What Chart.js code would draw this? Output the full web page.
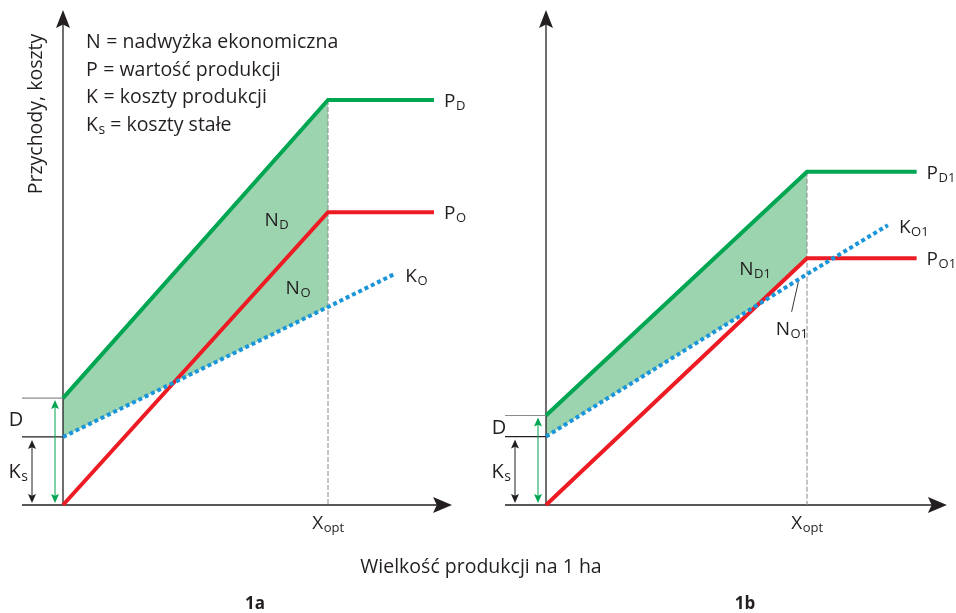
<!DOCTYPE html>
<html lang="pl">
<head>
<meta charset="utf-8">
<script src="https://cdn.jsdelivr.net/npm/chart.js@4.4.0/dist/chart.umd.min.js"></script>
<style>
  body { margin:0; background:#fff; width:956px; height:613px; overflow:hidden; position:relative; font-family: "Open Sans", sans-serif; color:#231f20; }
  canvas { position:absolute; top:0; }
  #c1 { left:0; }
  #c2 { left:478px; }
  .txt { position:absolute; font-size:19.5px; white-space:nowrap; transform:translateX(-50%); line-height:1; }
  .bold { font-weight:bold; }
</style>
</head>
<body>
<canvas id="c1" width="478" height="613"></canvas>
<canvas id="c2" width="478" height="613"></canvas>
<div class="txt" style="left:481px; top:556px;">Wielkość produkcji na 1 ha</div>
<div class="txt bold" style="left:255px; top:594px; font-size:17px;">1a</div>
<div class="txt bold" style="left:745px; top:594px; font-size:17px;">1b</div>
<script>
// ---- 1a ----
const pdA_x = [0, 10, 14];
const pdA_y = [26.4, 100, 100];
const poA_x = [0, 10, 14];
const poA_y = [0, 72.3, 72.3];
const koA_x = [0, 10, 12.5];
const koA_y = [16.8, 48.9, 57];
// surplus area N_D + N_O (between P_D and K_O up to X_opt)
const nA_top_x = [0, 10];
const nA_top_y = [26.4, 100];
const nA_bot_x = [0, 10];
const nA_bot_y = [16.8, 48.9];

// ---- 1b ----
const pdB_x = [0, 10, 14.2];
const pdB_y = [22.1, 82.3, 82.3];
const poB_x = [0, 10, 14.2];
const poB_y = [0, 60.9, 60.9];
const koB_x = [0, 10, 13.1];
const koB_y = [16.9, 57, 69.1];
// surplus area N_D1 (between P_D1 and the higher of K_O1 / P_O1)
const nB_top_x = [0, 10];
const nB_top_y = [22.1, 82.3];
const nB_bot_x = [0, 8.0, 10];
const nB_bot_y = [16.9, 49.0, 60.9];

const xOpt = 10;
const legendLines = [['N', '', ' = nadwyżka ekonomiczna'], ['P', '', ' = wartość produkcji'], ['K', '', ' = koszty produkcji'], ['K', 's', ' = koszty stałe']];

const green = '#00a651', red = '#ed1c24', blue = '#1b95d9', fillCol = '#9dd4b0', ink = '#231f20';
const FONT = '"Open Sans"';
const PY = 4.05; // px per y unit

const pts = (xs, ys) => xs.map((x, i) => ({x: x, y: ys[i]}));

function line(ctx, x1, y1, x2, y2) {
  ctx.beginPath(); ctx.moveTo(x1, y1); ctx.lineTo(x2, y2); ctx.stroke();
}
function head(ctx, tx, ty, dx, dy, len, half) {
  const nx = -dy, ny = dx;
  ctx.beginPath();
  ctx.moveTo(tx, ty);
  ctx.lineTo(tx - dx * len + nx * half, ty - dy * len + ny * half);
  ctx.lineTo(tx - dx * len * 0.8, ty - dy * len * 0.8);
  ctx.lineTo(tx - dx * len - nx * half, ty - dy * len - ny * half);
  ctx.closePath(); ctx.fill();
}
function subText(ctx, x, y, main, sub, align, size) {
  const f1 = size + 'px ' + FONT, f2 = Math.round(size * 0.7) + 'px ' + FONT;
  ctx.font = f1; const w1 = ctx.measureText(main).width;
  ctx.font = f2; const w2 = sub ? ctx.measureText(sub).width : 0;
  const left = align === 'center' ? x - (w1 + w2) / 2 : x;
  ctx.textAlign = 'left'; ctx.textBaseline = 'alphabetic';
  ctx.font = f1; ctx.fillText(main, left, y);
  if (sub) { ctx.font = f2; ctx.fillText(sub, left + w1 + 0.5, y + 3); }
  return left + w1 + w2 + 0.5;
}

function overlay(p) {
  return {
    id: 'overlay' + p.id,
    beforeDatasetsDraw(chart) {
      const {ctx, scales: {x, y}} = chart;
      const ax = x.getPixelForValue(0), by = y.getPixelForValue(0);
      ctx.save();
      ctx.strokeStyle = ink; ctx.fillStyle = ink; ctx.lineWidth = 1.3;
      // axes
      const ty = y.getPixelForValue(p.yTip), tx = x.getPixelForValue(p.xTip);
      line(ctx, ax, by, ax, ty + 14);
      head(ctx, ax, ty, 0, -1, 18, 7);
      line(ctx, ax - 41, by, tx - 14, by);
      head(ctx, tx, by, 1, 0, 19, 8);
      // Ks and D levels
      const yKs = y.getPixelForValue(p.ko_y[0]), yD = y.getPixelForValue(p.pd_y[0]);
      ctx.lineWidth = 1.2;
      line(ctx, ax - 41, yKs, ax, yKs);
      ctx.strokeStyle = '#8c8c8c';
      line(ctx, ax - 41, yD, ax, yD);
      // Ks arrow
      ctx.strokeStyle = ink; ctx.fillStyle = ink; ctx.lineWidth = 1;
      const xa = ax - 31;
      line(ctx, xa, yKs + 6, xa, by - 6);
      head(ctx, xa, yKs + 3, 0, -1, 9, 4);
      head(ctx, xa, by - 2, 0, 1, 9, 4);
      // D arrow
      ctx.strokeStyle = green; ctx.fillStyle = green;
      const xg = ax - 8;
      line(ctx, xg, yD + 6, xg, by - 6);
      head(ctx, xg, yD + 2, 0, -1, 9, 4);
      head(ctx, xg, by - 2, 0, 1, 9, 4);
      // X_opt guide
      ctx.strokeStyle = '#8a8a8a'; ctx.lineWidth = 1; ctx.setLineDash([5, 2]);
      const xo = x.getPixelForValue(xOpt);
      line(ctx, xo, y.getPixelForValue(p.pd_y[1]), xo, by);
      ctx.restore();
    },
    afterDatasetsDraw(chart) {
      const {ctx, scales: {x, y}} = chart;
      const ax = x.getPixelForValue(0), by = y.getPixelForValue(0);
      ctx.save();
      ctx.fillStyle = ink;
      const last = (xs, ys) => [x.getPixelForValue(xs[xs.length - 1]), y.getPixelForValue(ys[ys.length - 1])];
      let e = last(p.pd_x, p.pd_y); subText(ctx, e[0] + 10, e[1] + 7, 'P', p.names[0], 'left', 19);
      e = last(p.po_x, p.po_y); subText(ctx, e[0] + 10, e[1] + 7, 'P', p.names[1], 'left', 19);
      e = last(p.ko_x, p.ko_y); subText(ctx, e[0] + 11, e[1] + 8, 'K', p.names[2], 'left', 19);
      // X_opt
      subText(ctx, x.getPixelForValue(xOpt), by + 24, 'X', 'opt', 'center', 19);
      // D, Ks
      const yKs = y.getPixelForValue(p.ko_y[0]), yD = y.getPixelForValue(p.pd_y[0]);
      subText(ctx, ax - 47, (yD + yKs) / 2 + 8, 'D', '', 'center', 20);
      subText(ctx, ax - 45, (yKs + by) / 2 + 7, 'K', 's', 'center', 20);
      // area labels
      p.areas.forEach(a => subText(ctx, x.getPixelForValue(a.x), y.getPixelForValue(a.y) + 7, 'N', a.sub, 'left', 19));
      if (p.pointer) {
        ctx.strokeStyle = ink; ctx.lineWidth = 0.9;
        line(ctx, x.getPixelForValue(p.pointer[0]), y.getPixelForValue(p.pointer[1]), x.getPixelForValue(p.pointer[2]), y.getPixelForValue(p.pointer[3]));
      }
      if (p.legend) {
        ctx.save();
        ctx.translate(36, 114); ctx.rotate(-Math.PI / 2);
        ctx.font = '19.5px ' + FONT; ctx.textAlign = 'center'; ctx.textBaseline = 'middle';
        ctx.fillText('Przychody, koszty', 0, 0);
        ctx.restore();
        legendLines.forEach((l, i) => {
          const nx = subText(ctx, 86, 48 + i * 27.5, l[0], l[1], 'left', 19.5);
          ctx.font = '19.5px ' + FONT; ctx.fillText(l[2], nx, 48 + i * 27.5);
        });
      }
      ctx.restore();
    }
  };
}

function makeChart(id, p) {
  const ox = p.origin, pxx = p.pxX;
  return new Chart(document.getElementById(id), {
    type: 'line',
    data: {
      datasets: [
        { data: pts(p.pd_x, p.pd_y), borderColor: green, borderWidth: 4, order: 0 },
        { data: pts(p.ko_x, p.ko_y), borderColor: blue, borderWidth: 4, borderDash: [4, 3], borderCapStyle: 'butt', order: 1 },
        { data: pts(p.po_x, p.po_y), borderColor: red, borderWidth: 4, order: 2 },
        { data: pts(p.ft_x, p.ft_y), borderWidth: 0, borderColor: 'rgba(0,0,0,0)', backgroundColor: fillCol, fill: '+1', order: 3 },
        { data: pts(p.fb_x, p.fb_y), borderWidth: 0, borderColor: 'rgba(0,0,0,0)', fill: false, order: 4 }
      ]
    },
    options: {
      responsive: false,
      animation: false,
      events: [],
      layout: { padding: 0 },
      elements: { point: { radius: 0 }, line: { tension: 0, borderJoinStyle: 'miter' } },
      scales: {
        x: { type: 'linear', display: false, bounds: 'data', min: -ox / pxx, max: (478 - ox) / pxx },
        y: { type: 'linear', display: false, bounds: 'data', min: -(613 - 505) / PY, max: 505 / PY }
      },
      plugins: {
        legend: { display: false },
        tooltip: { enabled: false },
        filler: { drawTime: 'beforeDatasetsDraw' }
      }
    },
    plugins: [overlay(p)]
  });
}

makeChart('c1', {
  id: 'A', origin: 63, pxX: 26.5, yTip: 122.2, xTip: 14.68,
  pd_x: pdA_x, pd_y: pdA_y, po_x: poA_x, po_y: poA_y, ko_x: koA_x, ko_y: koA_y,
  ft_x: nA_top_x, ft_y: nA_top_y, fb_x: nA_bot_x, fb_y: nA_bot_y,
  names: ['D', 'O', 'O'],
  areas: [{x: 7.6, y: 70.6, sub: 'D'}, {x: 8.4, y: 53.8, sub: 'O'}],
  legend: true
});
makeChart('c2', {
  id: 'B', origin: 68, pxX: 26.1, yTip: 122.2, xTip: 15.36,
  pd_x: pdB_x, pd_y: pdB_y, po_x: poB_x, po_y: poB_y, ko_x: koB_x, ko_y: koB_y,
  ft_x: nB_top_x, ft_y: nB_top_y, fb_x: nB_bot_x, fb_y: nB_bot_y,
  names: ['D1', 'O1', 'O1'],
  areas: [{x: 7.4, y: 58.6, sub: 'D1'}, {x: 8.8, y: 43.7, sub: 'O1'}],
  pointer: [9.41, 47.7, 9.67, 55.1]
});
</script>
</body>
</html>
